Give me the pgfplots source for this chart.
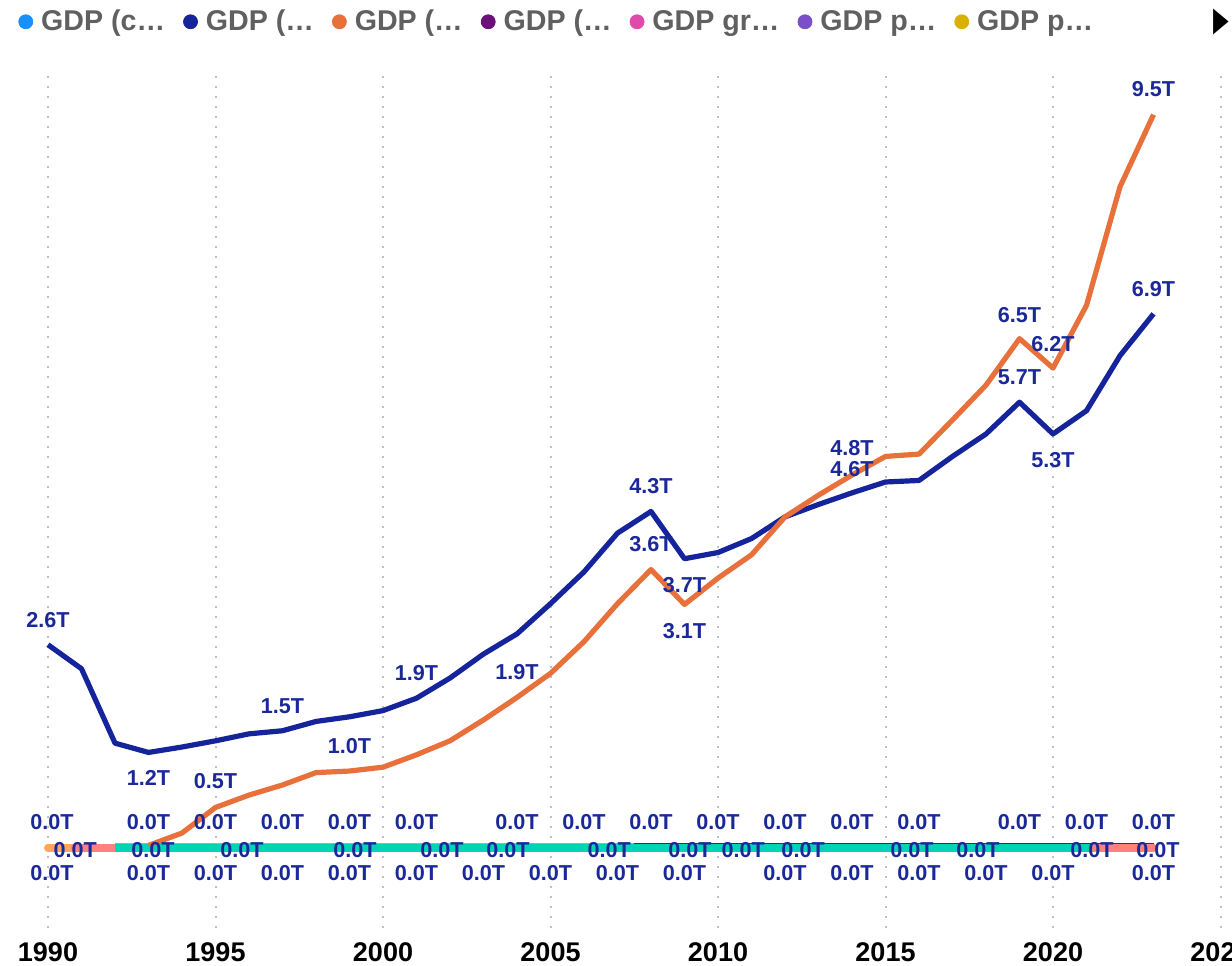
\documentclass[border=0pt]{standalone}
\usepackage{pgfplots}
\pgfplotsset{compat=1.18}
\usepackage{pgfplotstable}
\usepackage{fontspec}
\setmainfont{Liberation Sans}
\newfontfamily\dejavu{DejaVu Sans}
\definecolor{navy}{RGB}{22,36,156}
\definecolor{labcol}{RGB}{26,40,152}
\definecolor{orng}{RGB}{232,112,58}
\definecolor{turq}{RGB}{0,212,184}
\definecolor{salmon}{RGB}{255,128,128}
\definecolor{lorange}{RGB}{255,165,95}
\definecolor{purp}{RGB}{107,15,122}
\definecolor{lav}{RGB}{170,160,225}
\definecolor{c1}{RGB}{24,144,255}
\definecolor{c5}{RGB}{224,74,170}
\definecolor{c6}{RGB}{123,79,201}
\definecolor{c7}{RGB}{218,176,0}
\definecolor{leggray}{RGB}{96,96,96}

\pgfplotstableread{
x y lab dy
1990 2.62 2.6T 12.5
1991 2.31 {} 0
1992 1.35 {} 0
1993 1.23 1.2T -13
1994 1.30 {} 0
1995 1.38 {} 0
1996 1.47 {} 0
1997 1.51 1.5T 12.5
1998 1.63 {} 0
1999 1.69 {} 0
2000 1.77 {} 0
2001 1.93 1.9T 12.5
2002 2.19 {} 0
2003 2.50 {} 0
2004 2.76 {} 0
2005 3.15 {} 0
2006 3.56 {} 0
2007 4.06 {} 0
2008 4.34 4.3T 12.5
2009 3.73 3.7T -13
2010 3.81 {} 0
2011 3.99 {} 0
2012 4.27 {} 0
2013 4.43 {} 0
2014 4.58 4.6T 12
2015 4.72 {} 0
2016 4.74 {} 0
2017 5.05 {} 0
2018 5.34 {} 0
2019 5.75 5.7T 12.5
2020 5.34 5.3T -13
2021 5.64 {} 0
2022 6.35 {} 0
2023 6.89 6.9T 12.5
}\bluedata

\pgfplotstableread{
x y lab dy
1993 0.03 {} 0
1994 0.19 {} 0
1995 0.52 0.5T 13
1996 0.68 {} 0
1997 0.81 {} 0
1998 0.97 {} 0
1999 0.99 1.0T 12.5
2000 1.04 {} 0
2001 1.20 {} 0
2002 1.38 {} 0
2003 1.65 {} 0
2004 1.94 1.9T 12.5
2005 2.25 {} 0
2006 2.66 {} 0
2007 3.15 {} 0
2008 3.59 3.6T 12.5
2009 3.14 3.1T -13.5
2010 3.48 {} 0
2011 3.78 {} 0
2012 4.27 {} 0
2013 4.55 {} 0
2014 4.81 4.8T 13.5
2015 5.05 {} 0
2016 5.08 {} 0
2017 5.52 {} 0
2018 5.97 {} 0
2019 6.57 6.5T 12
2020 6.19 6.2T 12
2021 7.00 {} 0
2022 8.53 {} 0
2023 9.46 9.5T 13
}\orangedata

\pgfplotstableread{
x y lab
1990.12 0 0.0T
1993 0 0.0T
1995 0 0.0T
1997 0 0.0T
1999 0 0.0T
2001 0 0.0T
2004 0 0.0T
2006 0 0.0T
2008 0 0.0T
2010 0 0.0T
2012 0 0.0T
2014 0 0.0T
2016 0 0.0T
2019 0 0.0T
2021 0 0.0T
2023 0 0.0T
}\zerotop

\pgfplotstableread{
x y lab
1990.81 0 0.0T
1993.13 0 0.0T
1995.79 0 0.0T
1999.16 0 0.0T
2001.76 0 0.0T
2003.73 0 0.0T
2006.75 0 0.0T
2009.16 0 0.0T
2010.75 0 0.0T
2012.54 0 0.0T
2015.79 0 0.0T
2017.76 0 0.0T
2021.16 0 0.0T
2023.13 0 0.0T
}\zeromid

\pgfplotstableread{
x y lab
1990.12 0 0.0T
1993 0 0.0T
1995 0 0.0T
1997 0 0.0T
1999 0 0.0T
2001 0 0.0T
2003 0 0.0T
2005 0 0.0T
2007 0 0.0T
2009 0 0.0T
2012 0 0.0T
2014 0 0.0T
2016 0 0.0T
2018 0 0.0T
2020 0 0.0T
2023 0 0.0T
}\zerobot

\begin{document}
\begin{tikzpicture}
\begin{axis}[
  scale only axis, width=616pt, height=429pt,
  xmin=1988.567, xmax=2025.343, ymin=-1.032, ymax=10.04,
  axis line style={draw=none},
  ytick=\empty,
  xtick={1990,1995,2000,2005,2010,2015,2020,2025},
  xticklabels={1990,1995,2000,2005,2010,2015,2020,2025},
  major tick length=0pt,
  xticklabel style={font=\bfseries\fontsize{13.5}{16}\selectfont, anchor=center, yshift=-12pt},
  xmajorgrids,
  grid style={black!25, line width=1pt, dash pattern=on 1pt off 4pt},
  clip=false,
  legend columns=7,
  legend style={at={(0.0146,1.0559)}, anchor=west, draw=none, fill=none, inner sep=0pt,
    font=\bfseries\fontsize{14.3}{16}\selectfont, text=leggray,
    /tikz/every even column/.append style={column sep=7pt},
    /tikz/every odd column/.append style={column sep=2pt}},
  lbl/.style={nodes near coords, point meta=explicit symbolic,
    every node near coord/.append style={anchor=center, text=labcol, font=\bfseries\fontsize{10.8}{12}\selectfont, inner sep=0pt}},
]
\addlegendimage{legend image code/.code={\fill[c1] (3.5pt,0pt) circle (3.5pt);}}
\addlegendentry{GDP (c…}
\addlegendimage{legend image code/.code={\fill[navy] (3.5pt,0pt) circle (3.5pt);}}
\addlegendentry{GDP (…}
\addlegendimage{legend image code/.code={\fill[orng] (3.5pt,0pt) circle (3.5pt);}}
\addlegendentry{GDP (…}
\addlegendimage{legend image code/.code={\fill[purp] (3.5pt,0pt) circle (3.5pt);}}
\addlegendentry{GDP (…}
\addlegendimage{legend image code/.code={\fill[c5] (3.5pt,0pt) circle (3.5pt);}}
\addlegendentry{GDP gr…}
\addlegendimage{legend image code/.code={\fill[c6] (3.5pt,0pt) circle (3.5pt);}}
\addlegendentry{GDP p…}
\addlegendimage{legend image code/.code={\fill[c7] (3.5pt,0pt) circle (3.5pt);}}
\addlegendentry{GDP p…}

% near-zero series
\addplot[lorange, line width=4pt, line cap=round, forget plot] coordinates {(1990,0) (1991,0)};
\addplot[salmon, line width=4pt, line cap=round, forget plot] coordinates {(1990.8,0) (1991,0) (1992,0)};
\addplot[turq, line width=4pt, forget plot] coordinates {(1992,0) (1993,0) (1994,0) (1995,0) (1996,0) (1997,0) (1998,0) (1999,0) (2000,0) (2001,0) (2002,0) (2003,0) (2004,0) (2005,0) (2006,0) (2007,0) (2008,0) (2009,0) (2010,0) (2011,0) (2012,0) (2013,0) (2014,0) (2015,0) (2016,0) (2017,0) (2018,0) (2019,0) (2020,0) (2021,0) (2021.2,0)};
\addplot[salmon, line width=4pt, line cap=round, forget plot] coordinates {(2021.2,0) (2022,0) (2023,0)};
\addplot[lav, line width=0.6pt, yshift=2pt, forget plot] coordinates {(1992,0) (2000,0) (2007.5,0)};
\addplot[purp, line width=0.7pt, yshift=2pt, line cap=round, forget plot] coordinates {(2007.5,0) (2010,0) (2015,0) (2020,0) (2023,0)};

% main series
\addplot[navy, line width=2.6pt, line join=round, forget plot, lbl,
  visualization depends on={\thisrow{dy} \as \labdy},
  every node near coord/.append style={yshift=\labdy pt}] table[x=x, y=y, meta=lab] {\bluedata};
\addplot[orng, line width=2.6pt, line join=round, forget plot, lbl,
  visualization depends on={\thisrow{dy} \as \labdy},
  every node near coord/.append style={yshift=\labdy pt}] table[x=x, y=y, meta=lab] {\orangedata};

% zero labels
\addplot[draw=none, forget plot, lbl, every node near coord/.append style={yshift=13pt}] table[x=x, y=y, meta=lab] {\zerotop};
\addplot[draw=none, forget plot, lbl, every node near coord/.append style={yshift=-1pt}] table[x=x, y=y, meta=lab] {\zeromid};
\addplot[draw=none, forget plot, lbl, every node near coord/.append style={yshift=-12.5pt}] table[x=x, y=y, meta=lab] {\zerobot};

\node[font=\dejavu\fontsize{26}{26}\selectfont, text=black, xscale=0.6, inner sep=0pt] at (axis description cs:0.9915,1.0559) {▸};

\coordinate (bbA) at (axis cs:1988.567,-1.523);
\coordinate (bbB) at (axis cs:2025.343,10.94);
\end{axis}
\pgfresetboundingbox
\useasboundingbox (bbA) rectangle (bbB);
\end{tikzpicture}
\end{document}
